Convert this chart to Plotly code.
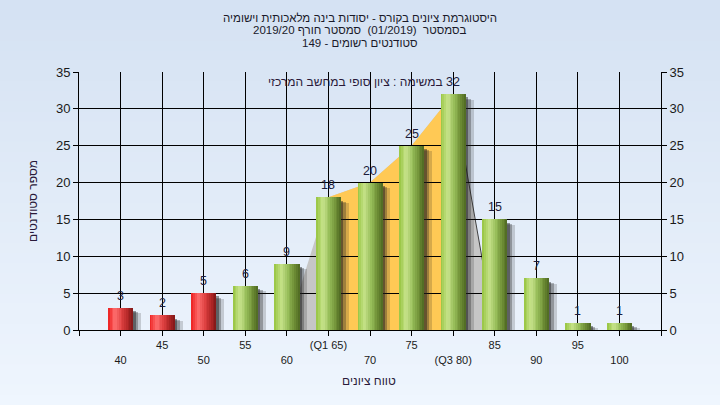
import plotly.graph_objects as go

# ---------------- data ----------------
grades = [40, 45, 50, 55, 60, 65, 70, 75, 80, 85, 90, 95, 100]
counts = [3, 2, 5, 6, 9, 18, 20, 25, 32, 15, 7, 1, 1]
tick_labels = ["40", "45", "50", "55", "60", "(Q1 65)", "70", "75", "(Q3 80)", "85", "90", "95", "100"]
q1 = 65
q3 = 80
pass_grade = 55

title_lines = [
    "היסטוגרמת ציונים בקורס - יסודות בינה מלאכותית וישומיה",
    "בסמסטר  (01/2019)  סמסטר חורף 2019/20",
    "סטודנטים רשומים - 149",
]
note_text = "במשימה : ציון סופי במחשב המרכזי"
x_title = "טווח ציונים"
y_title = "מספר סטודנטים"

# ---------------- layout geometry ----------------
W, H = 720, 405
ML, MR, MT, MB = 79, 59, 72, 75
PW, PH = W - ML - MR, H - MT - MB
FONT = "Liberation Sans, Arial, sans-serif"

def py(px):  # pixel y -> paper y
    return (H - MB - px) / PH

def px_(pxv):  # pixel x -> paper x
    return (pxv - ML) / PW

fig = go.Figure()

# background gradient (paper)
top_c = (213, 226, 243)
bot_c = (239, 246, 254)
N = 40
for i in range(N):
    t = i / (N - 1)
    c = tuple(int(top_c[k] + (bot_c[k] - top_c[k]) * t) for k in range(3))
    y0 = py(i * H / N)
    y1 = py((i + 1) * H / N + 1)
    fig.add_shape(type="rect", xref="paper", yref="paper", x0=px_(0), x1=px_(W),
                  y0=y1, y1=y0, fillcolor="rgb(%d,%d,%d)" % c, line_width=0, layer="below")

# grey area spanning Q1-5 .. Q3+5 (drawn beneath gridlines)
area_x = [q1 - 5] + [g for g in grades if q1 <= g <= q3] + [q3 + 5]
area_y = [0] + [c for g, c in zip(grades, counts) if q1 <= g <= q3] + [0]
path = "M " + " L ".join("%s,%s" % (x, y) for x, y in zip(area_x, area_y)) + " Z"
fig.add_shape(type="path", xref="x", yref="y", path=path, fillcolor="#c6c6c6",
              line=dict(width=0), layer="below")
# yellow inter-quartile area
iq_x = [g for g in grades if q1 <= g <= q3]
iq_y = [c for g, c in zip(grades, counts) if q1 <= g <= q3]
pts = [(iq_x[0], 0)] + list(zip(iq_x, iq_y)) + [(iq_x[-1], 0)]
path2 = "M " + " L ".join("%s,%s" % p for p in pts) + " Z"
fig.add_shape(type="path", xref="x", yref="y", path=path2, fillcolor="#ffc955",
              line=dict(width=0), layer="below")
# dark edge line after Q3
fig.add_shape(type="line", xref="x", yref="y", x0=q3, y0=counts[grades.index(q3)], x1=q3 + 5, y1=0,
              line=dict(width=1, color="#404040"), layer="below")

BW = 3.0  # bar width in grade units

# shadows
for off, drop, alpha in [(0.95, 0.75, 0.18), (0.6, 0.6, 0.3), (0.3, 0.45, 0.45)]:
    fig.add_trace(go.Bar(x=grades, y=[max(c - drop, 0) for c in counts], width=BW, offset=-BW / 2 + off,
                         marker=dict(color="rgba(30,30,30,%.2f)" % alpha, line_width=0),
                         hoverinfo="skip", showlegend=False))

# cylinder gradient via stripes
green_stops = [(0.0, (150, 196, 64)), (0.28, (200, 228, 140)), (0.55, (150, 188, 88)),
               (0.8, (110, 142, 54)), (1.0, (78, 104, 34))]
red_stops = [(0.0, (236, 30, 30)), (0.28, (255, 112, 112)), (0.55, (222, 64, 64)),
             (0.8, (176, 38, 38)), (1.0, (128, 24, 24))]

def interp(stops, t):
    for (t0, c0), (t1, c1) in zip(stops[:-1], stops[1:]):
        if t0 <= t <= t1:
            f = (t - t0) / (t1 - t0)
            return "rgb(%d,%d,%d)" % tuple(int(c0[k] + (c1[k] - c0[k]) * f) for k in range(3))
    return "rgb(%d,%d,%d)" % stops[-1][1]

NS = 14
sw = BW / NS
for i in range(NS):
    t = (i + 0.5) / NS
    cols = [interp(red_stops if g < pass_grade else green_stops, t) for g in grades]
    fig.add_trace(go.Bar(x=grades, y=counts, width=sw * 1.15, offset=-BW / 2 + i * sw,
                         marker=dict(color=cols, line_width=0),
                         hoverinfo="skip", showlegend=False))

# value labels
for g, c in zip(grades, counts):
    fig.add_annotation(x=g, y=c, text=str(c), showarrow=False, xanchor="center",
                       yanchor="bottom", yshift=3,
                       font=dict(family=FONT, size=12.5, color="#1c1c3c"))

# dummy for right axis
fig.add_trace(go.Scatter(x=[grades[0]], y=[0], yaxis="y2", mode="markers",
                         marker=dict(opacity=0), hoverinfo="skip", showlegend=False))

tickvals = [grades[0] - 5] + grades + [grades[-1] + 5]
ticktext = [""] + [(lab if i % 2 == 1 else "<br>" + lab) for i, lab in enumerate(tick_labels)] + [""]

fig.update_layout(
    width=W, height=H,
    margin=dict(l=ML, r=MR, t=MT, b=MB),
    paper_bgcolor="#e6eefa",
    plot_bgcolor="#b3b3b3",
    barmode="overlay",
    bargap=0,
    showlegend=False,
    font=dict(family=FONT, size=12, color="#1a1a1a"),
    xaxis=dict(range=[grades[0] - 5, grades[-1] + 5], tickmode="array",
               tickvals=tickvals, ticktext=ticktext,
               showgrid=True, gridcolor="#000000", gridwidth=1,
               showline=True, linecolor="#000000", linewidth=1, mirror=False,
               ticks="outside", ticklen=5, tickcolor="#000000",
               tickfont=dict(family=FONT, size=11, color="#1a1a1a"),
               zeroline=False, fixedrange=True),
    yaxis=dict(range=[0, 35], dtick=5, tick0=0, showgrid=True, gridcolor="#000000", gridwidth=1,
               showline=True, linecolor="#000000", linewidth=1,
               ticks="outside", ticklen=5, tickcolor="#000000",
               tickfont=dict(family=FONT, size=13, color="#1a1a1a"),
               zeroline=False),
    yaxis2=dict(range=[0, 35], dtick=5, tick0=0, overlaying="y", side="right",
                showgrid=False, showline=True, linecolor="#000000", linewidth=1,
                ticks="outside", ticklen=5, tickcolor="#000000",
                tickfont=dict(family=FONT, size=13, color="#1a1a1a"),
                zeroline=False),
)

# titles
for line, ypx in zip(title_lines, [18, 30.5, 43]):
    fig.add_annotation(text=line, xref="paper", yref="paper", x=px_(360), y=py(ypx),
                       xanchor="center", yanchor="middle", showarrow=False,
                       font=dict(family=FONT, size=11.5, color="#1a1a2a"))

fig.add_annotation(text=note_text, xref="paper", yref="paper", x=px_(445), y=py(82),
                   xanchor="right", yanchor="middle", showarrow=False,
                   font=dict(family=FONT, size=12, color="#2a1a3a"))

fig.add_annotation(text=x_title, xref="paper", yref="paper", x=px_(369), y=py(381),
                   xanchor="center", yanchor="middle", showarrow=False,
                   font=dict(family=FONT, size=12, color="#2a1a3a"))

fig.add_annotation(text=y_title, xref="paper", yref="paper", x=px_(33), y=py(201),
                   xanchor="center", yanchor="middle", showarrow=False, textangle=-90,
                   font=dict(family=FONT, size=12, color="#2a1a3a"))

fig.write_html("out.html", config={"displayModeBar": False},
               post_script="document.body.style.margin='0';document.body.style.background='#eef5fd';")
